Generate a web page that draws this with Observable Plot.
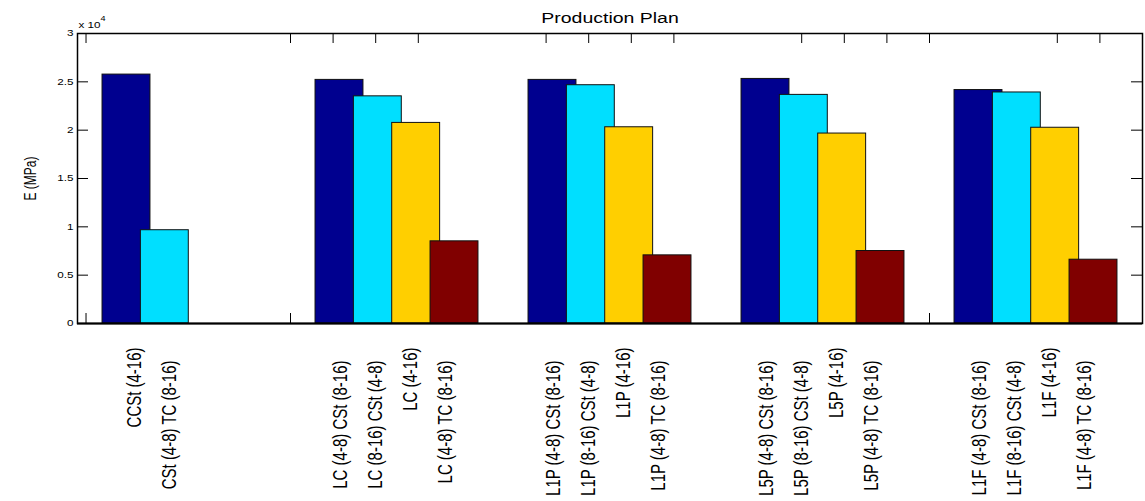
<!DOCTYPE html>
<html>
<head>
<meta charset="utf-8">
<script src="https://cdn.jsdelivr.net/npm/d3@7"></script>
<script src="https://cdn.jsdelivr.net/npm/@observablehq/plot@0.6"></script>
<style>
  html, body { margin: 0; padding: 0; background: #fff; }
  #chart svg { display: block; }
</style>
</head>
<body>
<div id="chart"></div>
<script>
// ---- data ----
const groups = ["CCSt", "LC", "L1P", "L5P", "L1F"];
const seriesNames = ["s1", "s2", "s3", "s4"];
const s1 = [25750, 25200, 25200, 25300, 24150];
const s2 = [9650, 23500, 24650, 23650, 23900];
const s3 = [0, 20750, 20300, 19650, 20250];
const s4 = [0, 8500, 7050, 7500, 6600];
const barLabels = [
  ["CCSt (4-16)", "CSt (4-8) TC (8-16)"],
  ["LC (4-8) CSt (8-16)", "LC (8-16) CSt (4-8)", "LC (4-16)", "LC (4-8) TC (8-16)"],
  ["L1P (4-8) CSt (8-16)", "L1P (8-16) CSt (4-8)", "L1P (4-16)", "L1P (4-8) TC (8-16)"],
  ["L5P (4-8) CSt (8-16)", "L5P (8-16) CSt (4-8)", "L5P (4-16)", "L5P (4-8) TC (8-16)"],
  ["L1F (4-8) CSt (8-16)", "L1F (8-16) CSt (4-8)", "L1F (4-16)", "L1F (4-8) TC (8-16)"]
];
const xTicks = [0.54, 1.5, 1.7, 1.9, 2.1, 2.7, 2.9, 3.1, 3.3, 3.9, 4.1, 4.3, 4.5, 5.1, 5.3];
const yTicks = [0, 5000, 10000, 15000, 20000, 25000, 30000];
const yTickLabels = ["0", "0.5", "1", "1.5", "2", "2.5", "3"];
const colors = ["#00008F", "#00DFFF", "#FFCF00", "#800000"];
const title = "Production Plan";
const yLabel = "E (MPa)";

// ---- layout ----
const W = 1145, H = 501;
const mL = 77, mR = 3, mT = 33, mB = 178;
const plotW = W - mL - mR, plotH = H - mT - mB;
const step = 0.18, bw = 0.225;          // bar spacing / width in group units
const lstep = 0.1643;                   // label spacing
const series = [s1, s2, s3, s4];

const bars = [];
groups.forEach((g, gi) => {
  series.forEach((s, si) => {
    const c = gi + 1 + (si - 1.5) * step;
    bars.push({group: g, series: seriesNames[si], x1: c - bw / 2, x2: c + bw / 2, value: s[gi]});
  });
});

const labels = [];
barLabels.forEach((arr, gi) => {
  arr.forEach((t, si) => {
    const shift = gi === 0 ? 0.031 : 0;
    const twoPart = (t.match(/\(/g) || []).length > 1;
    labels.push({x: gi + 1 + (si - 1.5) * lstep - 0.0164 + shift, text: t, off: twoPart ? 37 : 24});
  });
});

const yTickData = yTicks.map((v, i) => ({v, t: yTickLabels[i]}));
const font = "'Liberation Sans', Arial, Helvetica, sans-serif";

const plot = Plot.plot({
  width: W, height: H,
  marginLeft: mL, marginRight: mR, marginTop: mT, marginBottom: mB,
  style: {fontFamily: font, background: "#fff", color: "#000"},
  x: {domain: [0.5, 5.5], axis: null},
  y: {domain: [0, 30000], axis: null},
  color: {domain: seriesNames, range: colors},
  marks: [
    // ticks (beneath bars)
    Plot.tickX(xTicks, {x: d => d, insetBottom: plotH - 10, stroke: "#000", strokeWidth: 1}),
    Plot.tickX(xTicks, {x: d => d, insetTop: plotH - 10, stroke: "#000", strokeWidth: 1}),
    Plot.tickY(yTicks, {y: d => d, insetRight: plotW - 11, stroke: "#000", strokeWidth: 1}),
    Plot.tickY(yTicks, {y: d => d, insetLeft: plotW - 11, stroke: "#000", strokeWidth: 1}),
    // bars
    Plot.rectY(bars, {x1: "x1", x2: "x2", y1: 0, y2: "value", fill: "series", stroke: "#111", strokeWidth: 1}),
    Plot.frame({stroke: "#000", strokeWidth: 1.5}),
    Plot.ruleY([0], {stroke: "#000", strokeWidth: 2}),
    // y tick labels
    Plot.text(yTickData, {y: "v", text: "t", frameAnchor: "left", textAnchor: "end", dx: -4, fontSize: 9, fill: "#000"}),
    // exponent
    Plot.text(["x 10"], {frameAnchor: "top-left", lineAnchor: "middle", dx: 1, dy: -8, fontSize: 9, fill: "#000"}),
    Plot.text(["4"], {frameAnchor: "top-left", lineAnchor: "middle", dx: 23, dy: -15, fontSize: 7, fill: "#000"}),
    // title
    Plot.text([title], {frameAnchor: "top", lineAnchor: "middle", dy: -15, fontSize: 15, fill: "#000"}),
    // y label
    Plot.text([yLabel], {frameAnchor: "left", textAnchor: "middle", dx: -47, rotate: -90, fontSize: 12, fill: "#000"}),
    // bar labels
    Plot.text(labels, {x: "x", y: () => 0, text: "text", rotate: -90, textAnchor: "end", fontSize: 15, fill: "#000"})
  ]
});

document.getElementById("chart").appendChild(plot);

// horizontal glyph stretch, mimicking the exported figure's aspect
d3.select(plot).selectAll("text").each(function() {
  const t = this.getAttribute("transform");
  if (!t) return;
  if (t.includes("rotate")) this.setAttribute("transform", t.replace("rotate", "scale(1.3,1) rotate"));
  else this.setAttribute("transform", t + " scale(1.3,1)");
});
// tiered vertical offsets for the bar labels (last text group)
const groupsG = plot.querySelectorAll("g[aria-label='text']");
const lastG = groupsG[groupsG.length - 1];
d3.select(lastG).selectAll("text").each(function(_, i) {
  const t = this.getAttribute("transform");
  const m = t.match(/translate\(([-\d.]+),([-\d.]+)\)/);
  if (m) {
    const ny = +m[2] + labels[i].off;
    this.setAttribute("transform", t.replace(m[0], `translate(${m[1]},${ny})`));
  }
});
</script>
</body>
</html>
